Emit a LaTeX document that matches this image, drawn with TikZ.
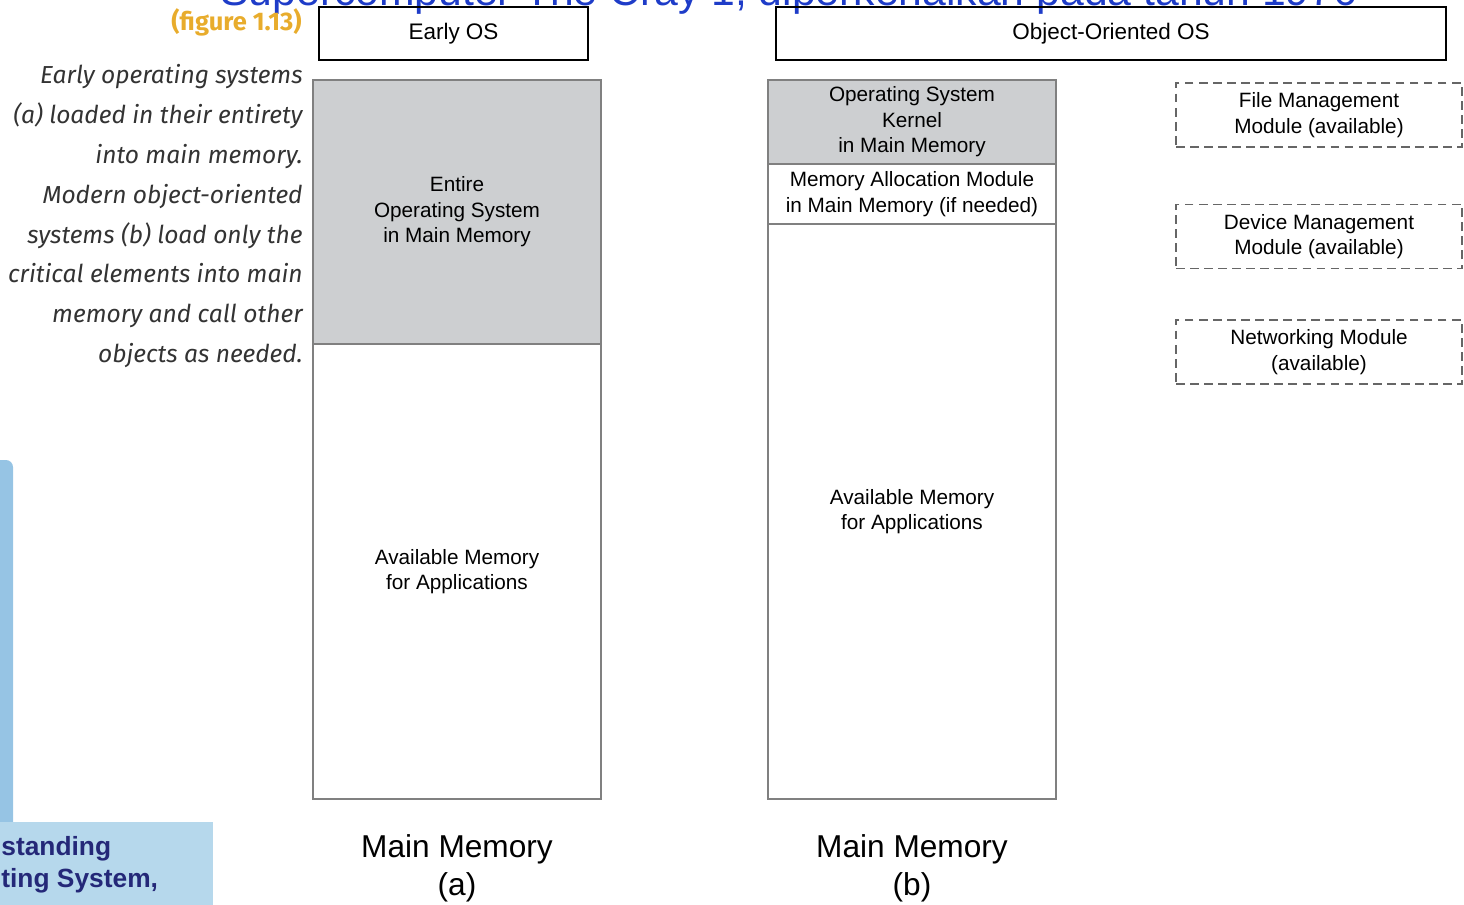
\documentclass[tikz,border=0pt]{standalone}
\usepackage{fontspec}
\setmainfont{Liberation Sans}
\newfontfamily\captfont{Fira Sans}
\usetikzlibrary{positioning}
\definecolor{osgray}{RGB}{205,207,209}
\definecolor{figgold}{RGB}{232,172,44}
\definecolor{slideblue}{RGB}{30,60,200}
\definecolor{panelblue}{RGB}{182,216,236}
\definecolor{stripblue}{RGB}{150,196,228}
\definecolor{navytext}{RGB}{36,40,120}
\tikzset{
  membox/.style={draw=black!50,line width=0.9pt,inner sep=0pt,outer sep=0pt,
    minimum width=5.76cm,align=center,font=\fontsize{11.8}{14.5}\selectfont},
  osbox/.style={draw,line width=1.6pt,inner sep=0pt,minimum height=1.06cm,
    font=\fontsize{12.8}{15}\selectfont},
  modbox/.style={draw=black!60,dash pattern=on 5pt off 3pt,line width=0.8pt,inner sep=0pt,
    minimum width=5.72cm,minimum height=1.28cm,align=center,
    font=\fontsize{11.8}{14.5}\selectfont},
  memlabel/.style={align=center,font=\fontsize{18}{21.5}\selectfont}
}
\begin{document}
\begin{tikzpicture}[x=0.02cm,y=-0.02cm]
  \useasboundingbox (0,0) rectangle (1464,904);
  % slide remains:
  \node[anchor=base west,inner sep=0pt,text=slideblue,font=\fontsize{24.3}{28}\selectfont]
    (slidetitle) at (220,5) {Supercomputer The Cray 1, diperkenalkan pada tahun 1976};
  \fill[stripblue,rounded corners=4pt] (-10,460) rectangle (13,830);
  \node[fill=panelblue,anchor=north west,minimum width=4.26cm,minimum height=1.7cm,
    inner sep=0pt] (panel) at (0,822) {};
  \node[anchor=north west,inner sep=0pt,align=left,text=navytext,
    font=\bfseries\fontsize{15}{18.5}\selectfont] (paneltext) at (1,836)
    {standing\\ting System,};
  % figure number and caption:
  \node[anchor=base east,inner sep=0pt,text=figgold,font=\captfont\bfseries\fontsize{14.5}{16}\selectfont]
    (fignum) at (302,30) {(figure 1.13)};
  \foreach \i/\t in {1/Early operating systems,2/(a) loaded in their entirety,
      3/into main memory.,4/Modern object-oriented,5/systems (b) load only the,
      6/critical elements into main,7/memory and call other,8/objects as needed.}
    \node[anchor=base east,inner sep=0pt,font=\captfont\itshape\fontsize{14}{16}\selectfont,
      text=black!80] (cap\i) at (303,{44+39.8*\i}) {\t};
  % headers:
  \node[osbox,minimum width=5.38cm] (earlyos) at (453.5,33.5) {Early OS};
  \node[osbox,minimum width=13.4cm] (objos) at (1111,33.5) {Object-Oriented OS};
  % main memory (a):
  \node[membox,fill=osgray,minimum height=5.28cm] (entireos) at (457,212)
    {Entire\\Operating System\\in Main Memory};
  \node[membox,minimum height=9.1cm,below=0pt of entireos] (freea)
    {Available Memory\\for Applications};
  % main memory (b):
  \node[membox,fill=osgray,minimum height=1.68cm] (kernel) at (912,122)
    {Operating System\\Kernel\\in Main Memory};
  \node[membox,minimum height=1.2cm,below=0pt of kernel] (alloc)
    {Memory Allocation Module\\in Main Memory (if needed)};
  \node[membox,minimum height=11.5cm,below=0pt of alloc] (freeb)
    {Available Memory\\for Applications};
  % modules on disk:
  \node[modbox] (filemod) at (1319,115) {File Management\\Module (available)};
  \node[modbox] (devmod) at (1319,236.5) {Device Management\\Module (available)};
  \node[modbox] (netmod) at (1319,352) {Networking Module\\(available)};
  % captions below:
  \node[memlabel] (mema) at (457,868) {Main Memory\\(a)};
  \node[memlabel] (memb) at (912,868) {Main Memory\\(b)};
\end{tikzpicture}
\end{document}
